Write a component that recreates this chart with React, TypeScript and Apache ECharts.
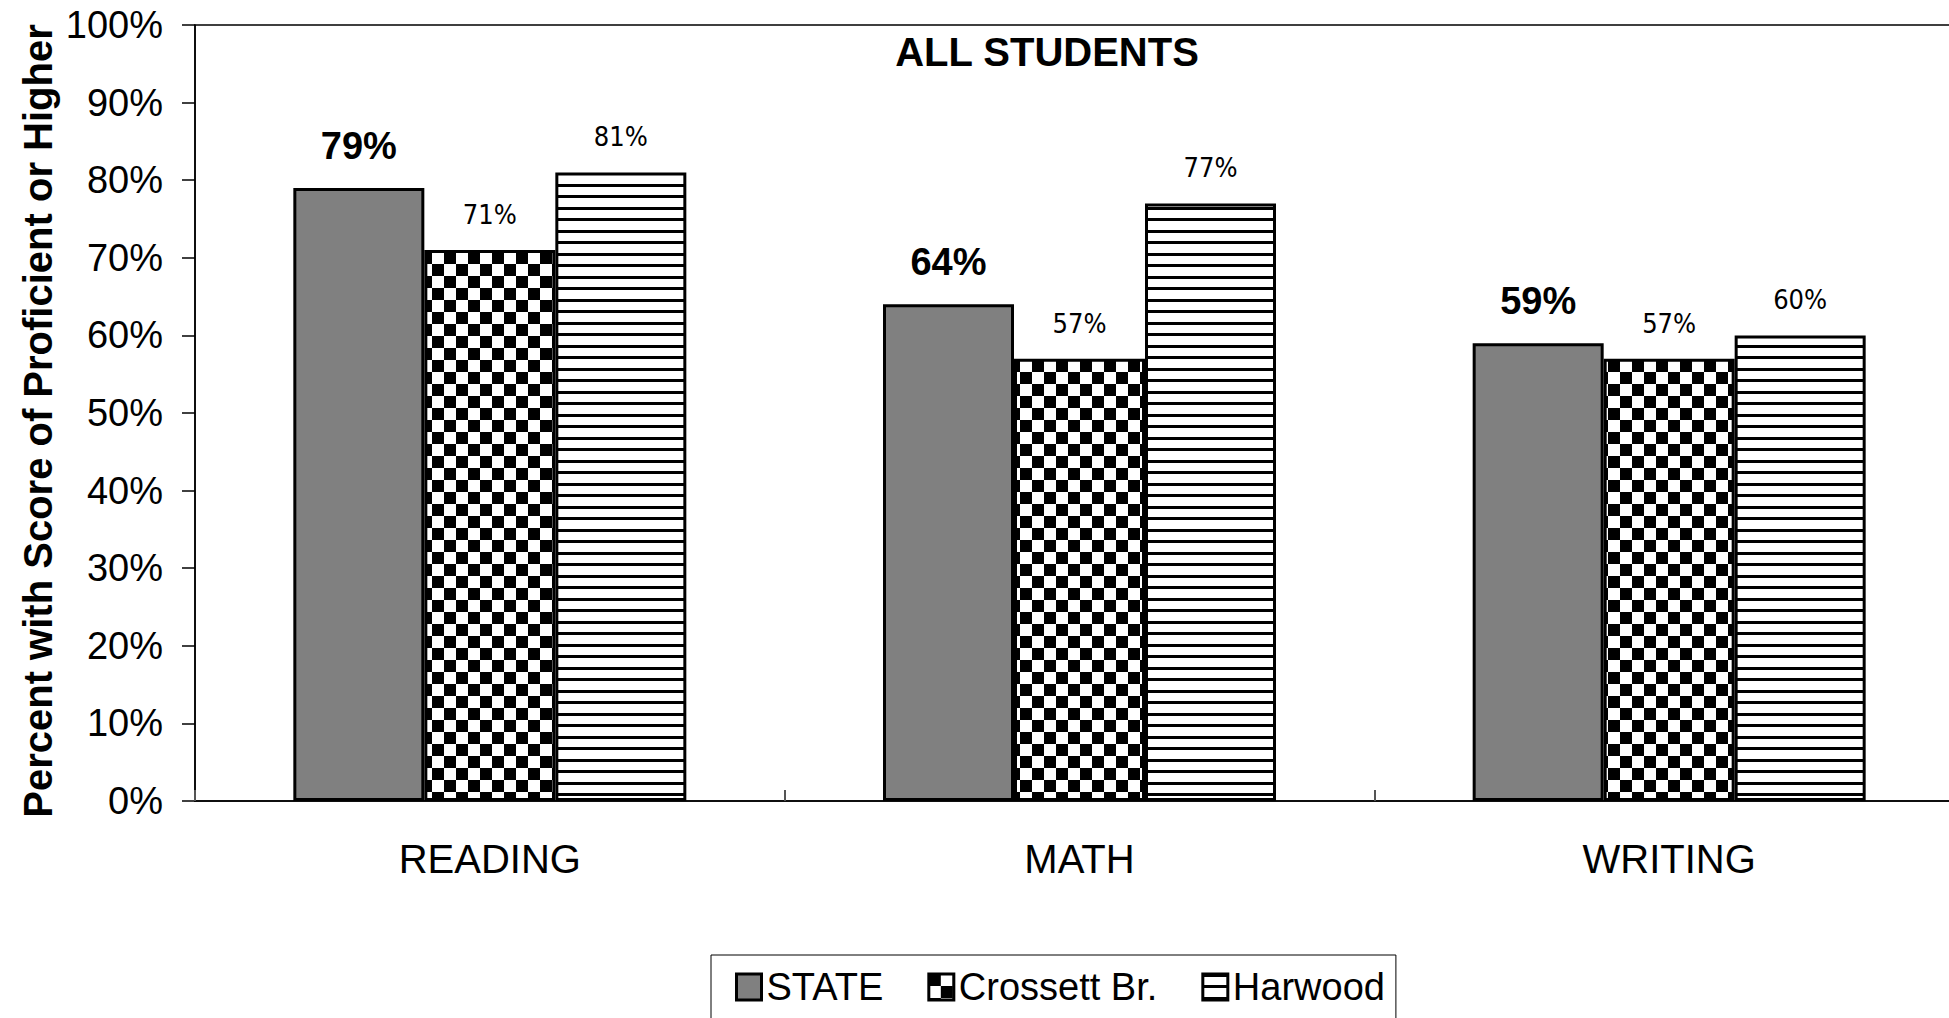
import React, { useEffect, useRef } from "react";
import * as echarts from "echarts";

const categories = ["READING", "MATH", "WRITING"];
const seriesNames = ["STATE", "Crossett Br.", "Harwood"];
const stateValues = [79, 64, 59];
const crossettValues = [71, 57, 57];
const harwoodValues = [81, 77, 60];
const chartTitle = "ALL STUDENTS";
const yAxisName = "Percent with Score of Proficient or Higher";

const SANS = "'Liberation Sans', Arial, Helvetica, sans-serif";
const NARROW = "'Liberation Sans Narrow', 'Arial Narrow', 'DejaVu Sans Condensed', sans-serif";

function makeChecker(): HTMLCanvasElement {
  const c = document.createElement("canvas");
  c.width = 24;
  c.height = 24;
  const ctx = c.getContext("2d")!;
  ctx.fillStyle = "#ffffff";
  ctx.fillRect(0, 0, 24, 24);
  ctx.fillStyle = "#000000";
  ctx.fillRect(0, 0, 12, 12);
  ctx.fillRect(12, 12, 12, 12);
  return c;
}

function makeStripes(): HTMLCanvasElement {
  const c = document.createElement("canvas");
  c.width = 8;
  c.height = 23;
  const ctx = c.getContext("2d")!;
  ctx.fillStyle = "#ffffff";
  ctx.fillRect(0, 0, 8, 23);
  ctx.fillStyle = "#000000";
  ctx.fillRect(0, 0, 8, 3);
  ctx.fillRect(0, 11, 8, 3);
  return c;
}

export default function App() {
  const ref = useRef<HTMLDivElement>(null);

  useEffect(() => {
    if (!ref.current) return;
    const chart = echarts.init(ref.current, null, { renderer: "svg" });
    const checker = makeChecker();
    const stripes = makeStripes();

    const plainLabel = {
      show: true,
      position: "top",
      distance: 22,
      formatter: "{c}%",
      color: "#000",
      fontFamily: NARROW,
      fontSize: 27,
    };

    chart.setOption({
      animation: false,
      backgroundColor: "#ffffff",
      graphic: [
        {
          type: "text",
          x: 1047,
          y: 52,
          style: {
            text: chartTitle,
            fill: "#000",
            font: `bold 40px ${SANS}`,
            textAlign: "center",
            textVerticalAlign: "middle",
          },
        },
        {
          type: "text",
          x: 38,
          y: 421,
          rotation: Math.PI / 2,
          style: {
            text: yAxisName,
            fill: "#000",
            font: `bold 40px ${SANS}`,
            textAlign: "center",
            textVerticalAlign: "middle",
          },
        },
      ],
      legend: {
        data: seriesNames,
        left: 711,
        top: 955,
        padding: [13, 11, 30, 24],
        itemGap: 44,
        itemWidth: 25,
        itemHeight: 26,
        borderColor: "#000",
        borderWidth: 1,
        icon: "rect",
        itemStyle: { borderColor: "#000", borderWidth: 3 },
        textStyle: { fontFamily: SANS, fontSize: 38, color: "#000" },
      },
      grid: {
        left: 195,
        right: 0,
        top: 25,
        bottom: 217,
        show: true,
        borderColor: "#000",
        borderWidth: 1.5,
        backgroundColor: "transparent",
        containLabel: false,
      },
      xAxis: {
        type: "category",
        data: categories,
        axisLine: { show: true, lineStyle: { color: "#000", width: 1.5 } },
        axisTick: { show: true, inside: true, length: 11, lineStyle: { color: "#555", width: 2 } },
        axisLabel: { color: "#000", fontFamily: SANS, fontSize: 40, margin: 38 },
        splitLine: { show: false },
      },
      yAxis: {
        type: "value",
        min: 0,
        max: 100,
        interval: 10,
        axisLine: { show: true, lineStyle: { color: "#000", width: 1.5 } },
        axisTick: { show: true, inside: false, length: 13, lineStyle: { color: "#000", width: 1.5 } },
        axisLabel: { formatter: "{value}%", color: "#000", fontFamily: SANS, fontSize: 38, margin: 32 },
        splitLine: { show: false },
      },
      series: [
        {
          name: seriesNames[0],
          type: "bar",
          data: stateValues,
          barWidth: 131,
          barGap: "0%",
          itemStyle: { color: "#808080", borderColor: "#000", borderWidth: 3 },
          label: {
            show: true,
            position: "top",
            distance: 23,
            formatter: "{c}%",
            color: "#000",
            fontFamily: SANS,
            fontSize: 38,
            fontWeight: "bold",
          },
        },
        {
          name: seriesNames[1],
          type: "bar",
          data: crossettValues,
          barWidth: 131,
          barGap: "0%",
          itemStyle: {
            color: { image: checker, repeat: "repeat" },
            borderColor: "#000",
            borderWidth: 3,
          },
          label: plainLabel,
        },
        {
          name: seriesNames[2],
          type: "bar",
          data: harwoodValues,
          barWidth: 131,
          barGap: "0%",
          itemStyle: {
            color: { image: stripes, repeat: "repeat" },
            borderColor: "#000",
            borderWidth: 3,
          },
          label: plainLabel,
        },
      ],
    });

    return () => chart.dispose();
  }, []);

  return (
    <div
      style={{
        position: "fixed",
        left: 0,
        top: 0,
        width: 1949,
        height: 1018,
        overflow: "hidden",
        background: "#fff",
      }}
    >
      <div ref={ref} style={{ width: 1964, height: 1018 }} />
    </div>
  );
}
